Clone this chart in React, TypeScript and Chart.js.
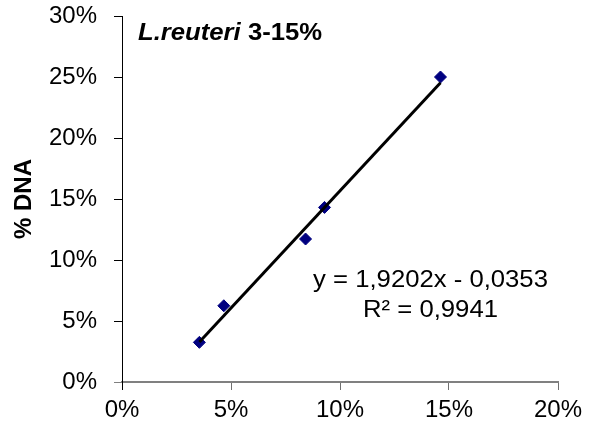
import React, { useEffect, useRef } from "react";
import { Chart, registerables } from "chart.js";

Chart.register(...registerables);

// ---- data ----
const xValues = [0.0355, 0.0467, 0.0842, 0.0929, 0.1461];
const yValues = [0.0325, 0.0625, 0.1172, 0.1431, 0.25];
const trendSlope = 1.9202;
const trendIntercept = -0.0353;
const equationLines = ["y = 1,9202x - 0,0353", "R² = 0,9941"];
const titleItalic = "L.reuteri";
const titleRest = " 3-15%";
const yAxisTitle = "% DNA";
const xRange = [0, 0.2];
const yRange = [0, 0.3];
const tickStep = 0.05;

const FONT = '"Liberation Sans", Arial, sans-serif';
const STRETCH = 1.07;

const pct = (v: number) => `${Math.round(v * 100)}%`;

const textPlugin = {
  id: "textOverlay",
  afterDraw(chart: any) {
    const ctx = chart.ctx as CanvasRenderingContext2D;
    ctx.save();
    ctx.fillStyle = "#000";
    ctx.textBaseline = "alphabetic";
    ctx.textAlign = "left";
    // chart title inside plot area (slightly wide lettering as in the reference)
    ctx.save();
    ctx.translate(138, 39.5);
    ctx.scale(STRETCH, 1);
    ctx.font = `italic bold 24px ${FONT}`;
    ctx.fillText(titleItalic, 0, 0);
    const w = ctx.measureText(titleItalic).width;
    ctx.font = `bold 24px ${FONT}`;
    ctx.fillText(titleRest, w, 0);
    ctx.restore();
    // trendline equation
    ctx.font = `24px ${FONT}`;
    ctx.textAlign = "center";
    ctx.save();
    ctx.translate(430.5, 286.5);
    ctx.scale(STRETCH, 1);
    ctx.fillText(equationLines[0], 0, 0);
    ctx.fillText(equationLines[1], 0, 30);
    ctx.restore();
    ctx.restore();
  },
};

export default function App() {
  const ref = useRef<HTMLCanvasElement>(null);

  useEffect(() => {
    if (!ref.current) return;
    const points = xValues.map((x, i) => ({ x, y: yValues[i] }));
    const xMin = Math.min(...xValues);
    const xMax = Math.max(...xValues);
    const trend = [xMin, xMax].map((x) => ({ x, y: trendSlope * x + trendIntercept }));

    const chart = new Chart(ref.current, {
      type: "scatter",
      data: {
        datasets: [
          {
            label: "Trend",
            data: trend,
            showLine: true,
            borderColor: "#000",
            borderWidth: 3,
            pointRadius: 0,
            order: 0,
          },
          {
            label: "Data",
            data: points,
            pointStyle: "rectRot",
            pointRadius: 6,
            backgroundColor: "#000080",
            borderColor: "#000080",
            borderWidth: 1,
            order: 1,
          },
        ],
      },
      options: {
        responsive: false,
        animation: false,
        devicePixelRatio: 1,
        layout: { padding: { top: 16, right: 38, left: 0, bottom: 0 } },
        plugins: {
          legend: { display: false },
          tooltip: { enabled: false },
          title: { display: false },
        },
        scales: {
          x: {
            type: "linear",
            min: xRange[0],
            max: xRange[1],
            afterFit: (s: any) => {
              s.height = 50;
              s.paddingLeft = 0;
              s.paddingRight = 0;
            },
            ticks: {
              stepSize: tickStep,
              callback: (v: any) => pct(Number(v)),
              color: "#000",
              font: { family: FONT, size: 24 },
              padding: 6,
              maxRotation: 0,
            },
            grid: {
              drawOnChartArea: false,
              drawTicks: true,
              tickLength: 8,
              color: (c: any) => (c.index === 0 ? "#000" : "#707070"),
              lineWidth: 1,
            },
            border: { display: true, color: "#808080", width: 2 },
          },
          y: {
            type: "linear",
            min: yRange[0],
            max: yRange[1],
            afterFit: (s: any) => {
              s.width = 122;
              s.paddingTop = 0;
              s.paddingBottom = 0;
            },
            ticks: {
              stepSize: tickStep,
              callback: (v: any) => pct(Number(v)),
              color: "#000",
              font: { family: FONT, size: 24 },
              padding: 17,
            },
            grid: {
              drawOnChartArea: false,
              drawTicks: true,
              tickLength: 8,
              color: (c: any) => (c.tick && c.tick.value === 0 ? "#808080" : "#000"),
              lineWidth: 1,
            },
            border: { display: true, color: "#000", width: 1 },
            title: {
              display: true,
              text: yAxisTitle,
              color: "#000",
              font: { family: FONT, size: 24, weight: "bold" },
              padding: { top: 10, bottom: 0 },
            },
          },
        },
      },
      plugins: [textPlugin],
    });
    return () => chart.destroy();
  }, []);

  return (
    <div style={{ position: "fixed", left: 0, top: 0, width: 596, height: 432, background: "#fff" }}>
      <canvas ref={ref} width={596} height={432} style={{ display: "block" }} />
    </div>
  );
}
